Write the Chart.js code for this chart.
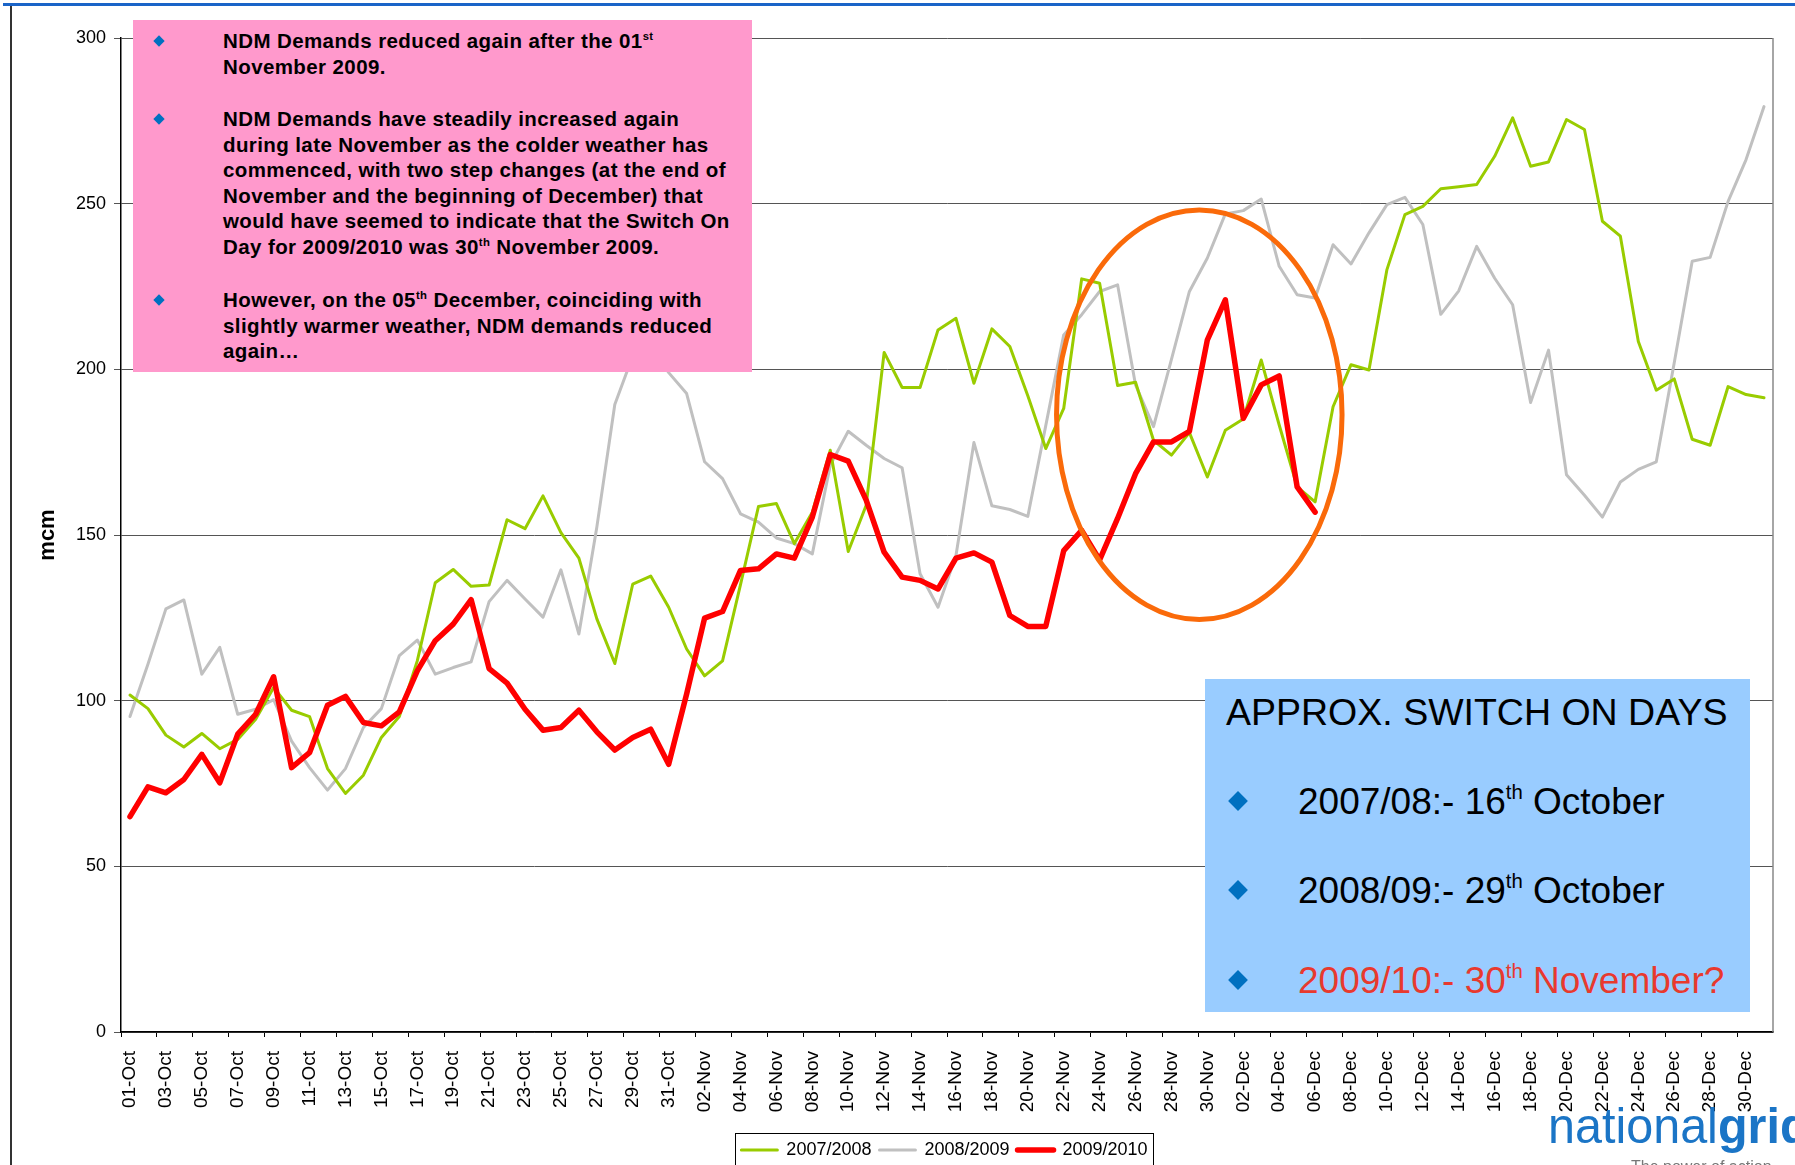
<!DOCTYPE html>
<html>
<head>
<meta charset="utf-8">
<script src="https://cdn.jsdelivr.net/npm/chart.js@4.4.1/dist/chart.umd.min.js"></script>
<style>
  html, body { margin: 0; padding: 0; background: #fff; }
  #wrap { position: relative; width: 1795px; height: 1165px; overflow: hidden; font-family: "Liberation Sans", Arial, sans-serif; color: #000; }
  #chart { position: absolute; left: 0; top: 0; }
  .topline { position: absolute; left: 3px; top: 3px; width: 1792px; height: 3px; background: #1a64c8; }
  .leftline { position: absolute; left: 10px; top: 6px; width: 2px; height: 1160px; background: #333; }
  .note { position: absolute; left: 133px; top: 20px; width: 619px; height: 352px; background: #ff99cc; }
  .note .para { position: absolute; left: 90px; font-weight: bold; font-size: 20.5px; letter-spacing: 0.4px; line-height: 25.6px; white-space: nowrap; }
  .note .dot { position: absolute; left: 22px; width: 8px; height: 8px; background: #0070c0; transform: rotate(45deg); }
  .switch { position: absolute; left: 1205px; top: 679px; width: 545px; height: 333px; background: #99ccff; }
  .switch .ln { position: absolute; font-size: 37px; line-height: 37px; white-space: nowrap; }
  .switch .dot { position: absolute; left: 26px; width: 14px; height: 14px; background: #0070c0; transform: rotate(45deg); }
  sup { font-size: 0.55em; line-height: 0; vertical-align: 0; position: relative; top: -0.75em; }
  .logo { position: absolute; left: 1548px; top: 1101px; font-size: 50px; line-height: 50px; color: #1b75c6; white-space: nowrap; transform: scaleX(0.97); transform-origin: left top; }
  .logo b { font-weight: bold; }
  .tag { position: absolute; left: 1631px; top: 1158px; font-size: 16px; color: #777; white-space: nowrap; }
</style>
</head>
<body>
<div id="wrap">
  <canvas id="chart" width="1795" height="1165"></canvas>
  <div class="topline"></div>
  <div class="leftline"></div>

  <div class="note">
    <div class="dot" style="top:17px"></div>
    <div class="para" style="top:8px">NDM Demands reduced again after the 01<sup>st</sup><br>November 2009.</div>
    <div class="dot" style="top:95px"></div>
    <div class="para" style="top:86px">NDM Demands have steadily increased again<br>during late November as the colder weather has<br>commenced, with two step changes (at the end of<br>November and the beginning of December) that<br>would have seemed to indicate that the Switch On<br>Day for 2009/2010 was 30<sup>th</sup> November 2009.</div>
    <div class="dot" style="top:276px"></div>
    <div class="para" style="top:267px">However, on the 05<sup>th</sup> December, coinciding with<br>slightly warmer weather, NDM demands reduced<br>again…</div>
  </div>

  <div class="switch">
    <div class="ln" style="left:21px; top:15px; font-size:37.5px">APPROX. SWITCH ON DAYS</div>
    <div class="dot" style="top:115px"></div>
    <div class="ln" style="left:93px; top:104px">2007/08:- 16<sup>th</sup> October</div>
    <div class="dot" style="top:204px"></div>
    <div class="ln" style="left:93px; top:193px">2008/09:- 29<sup>th</sup> October</div>
    <div class="dot" style="top:294px"></div>
    <div class="ln" style="left:93px; top:283px; color:#e8392e">2009/10:- 30<sup>th</sup> November?</div>
  </div>

  <div class="logo">national<b>grid</b></div>
  <div class="tag">The power of action</div>
</div>

<script>
// Daily NDM demand (mcm), 01-Oct .. 31-Dec
const days = [
  '01-Oct','02-Oct','03-Oct','04-Oct','05-Oct','06-Oct','07-Oct','08-Oct','09-Oct','10-Oct',
  '11-Oct','12-Oct','13-Oct','14-Oct','15-Oct','16-Oct','17-Oct','18-Oct','19-Oct','20-Oct',
  '21-Oct','22-Oct','23-Oct','24-Oct','25-Oct','26-Oct','27-Oct','28-Oct','29-Oct','30-Oct','31-Oct',
  '01-Nov','02-Nov','03-Nov','04-Nov','05-Nov','06-Nov','07-Nov','08-Nov','09-Nov','10-Nov',
  '11-Nov','12-Nov','13-Nov','14-Nov','15-Nov','16-Nov','17-Nov','18-Nov','19-Nov','20-Nov',
  '21-Nov','22-Nov','23-Nov','24-Nov','25-Nov','26-Nov','27-Nov','28-Nov','29-Nov','30-Nov',
  '01-Dec','02-Dec','03-Dec','04-Dec','05-Dec','06-Dec','07-Dec','08-Dec','09-Dec','10-Dec',
  '11-Dec','12-Dec','13-Dec','14-Dec','15-Dec','16-Dec','17-Dec','18-Dec','19-Dec','20-Dec',
  '21-Dec','22-Dec','23-Dec','24-Dec','25-Dec','26-Dec','27-Dec','28-Dec','29-Dec','30-Dec','31-Dec'
];

const demand0708 = [
  101.7, 97.6, 89.6, 86.0, 90.1, 85.5, 88.3, 94.4, 104.0, 97.1,
  95.2, 79.5, 72.0, 77.5, 88.9, 95.2, 112.0, 135.6, 139.6, 134.5,
  134.9, 154.6, 151.9, 161.8, 150.7, 143.0, 124.7, 111.2, 135.2, 137.6,
  128.2, 115.6, 107.5, 112.0, 135.0, 158.6, 159.5, 147.4, 156.9, 175.6,
  145.0, 159.0, 205.1, 194.5, 194.5, 211.9, 215.4, 195.8, 212.2, 206.9,
  192.0, 176.1, 188.2, 227.3, 226.0, 195.1, 196.1, 178.6, 174.1, 180.9,
  167.5, 181.6, 185.0, 202.8, 183.2, 164.5, 160.0, 188.7, 201.4, 199.8,
  230.1, 246.7, 249.2, 254.5, 255.1, 255.8, 264.3, 275.9, 261.3, 262.6,
  275.4, 272.4, 244.7, 240.2, 208.4, 193.7, 197.1, 178.9, 177.1, 194.8,
  192.4, 191.4
];

const demand0809 = [
  95.2, 111.0, 127.7, 130.4, 108.0, 116.1, 95.9, 97.4, 100.3, 87.8,
  79.8, 73.0, 79.5, 91.9, 97.6, 113.6, 118.3, 108.0, 110.0, 111.7,
  129.9, 136.3, 130.7, 125.2, 139.5, 120.1, 152.4, 189.4, 204.0, 207.0,
  199.0, 192.7, 172.1, 167.0, 156.4, 153.9, 149.1, 147.4, 144.3, 171.1,
  181.3, 177.1, 173.1, 170.3, 138.3, 128.2, 143.8, 177.9, 158.8, 157.7,
  155.6, 183.0, 210.4, 216.5, 223.5, 225.5, 195.3, 182.7, 203.0, 223.5,
  233.6, 246.9, 247.9, 251.4, 231.1, 222.5, 221.5, 237.6, 231.8, 241.2,
  249.7, 251.9, 243.7, 216.6, 223.7, 237.1, 227.5, 219.5, 190.0, 205.8,
  168.2, 162.0, 155.4, 166.0, 169.8, 172.1, 202.0, 232.6, 233.8, 250.7,
  263.3, 279.3
];

// 2009/2010 only runs to 06-Dec
const demand0910 = [
  65.0, 74.0, 72.2, 76.2, 83.8, 75.2, 89.9, 95.9, 107.2, 79.8,
  84.3, 98.6, 101.3, 93.4, 92.4, 96.6, 109.0, 118.1, 123.1, 130.5,
  109.7, 105.3, 97.4, 91.1, 91.9, 97.1, 90.6, 85.1, 88.9, 91.4,
  80.8, 102.0, 124.9, 126.9, 139.3, 139.8, 144.3, 143.0, 155.4, 174.3,
  172.3, 160.5, 144.8, 137.3, 136.3, 133.7, 143.0, 144.6, 141.8, 125.7,
  122.4, 122.4, 145.3, 151.4, 142.5, 155.0, 168.5, 178.1, 178.1, 181.3,
  208.9, 221.0, 185.2, 195.3, 198.0, 164.5, 156.9
];

const yTicks = [0, 50, 100, 150, 200, 250, 300];

// highlight ring round late Nov / early Dec (category index, mcm)
const ringCentre = [59.55, 186.3];
const ringRadius = [7.95, 61.8];

Chart.defaults.font.family = '"Liberation Sans", Arial, sans-serif';
Chart.defaults.color = '#000';

// plot border, highlight ring, legend frame
const extras = {
  id: 'extras',
  afterUpdate(chart) {
    // legend plugin has already placed its hit boxes, so move both
    const lg = chart.legend;
    const dx = 58, dy = 4;
    lg.left += dx; lg.right += dx;
    lg.top += dy; lg.bottom += dy;
    (lg.legendHitBoxes || []).forEach(h => { h.left += dx; h.top += dy; });
  },
  beforeDatasetsDraw(chart) {
    const { ctx, chartArea: a } = chart;
    ctx.save();
    ctx.strokeStyle = '#888';
    ctx.lineWidth = 1.5;
    ctx.beginPath();
    ctx.moveTo(a.right, a.top);
    ctx.lineTo(a.right, a.bottom);
    ctx.stroke();
    ctx.restore();
  },
  afterDatasetsDraw(chart) {
    const { ctx, scales: { x, y } } = chart;
    const cx = x.getPixelForValue(ringCentre[0]);
    const cy = y.getPixelForValue(ringCentre[1]);
    const rx = x.getPixelForValue(ringCentre[0] + ringRadius[0]) - cx;
    const ry = cy - y.getPixelForValue(ringCentre[1] + ringRadius[1]);
    ctx.save();
    ctx.strokeStyle = '#fa6a0a';
    ctx.lineWidth = 5;
    ctx.beginPath();
    ctx.ellipse(cx, cy, rx, ry, 0, 0, 2 * Math.PI);
    ctx.stroke();
    ctx.restore();
  },
  afterDraw(chart) {
    const hb = chart.legend.legendHitBoxes;
    if (!hb || !hb.length) return;
    const l = Math.min(...hb.map(h => h.left)) - 6;
    const r = Math.max(...hb.map(h => h.left + h.width)) + 6;
    const mid = hb[0].top + hb[0].height / 2;
    const ctx = chart.ctx;
    ctx.save();
    ctx.strokeStyle = '#000';
    ctx.lineWidth = 1;
    ctx.strokeRect(Math.round(l) + 0.5, Math.round(mid - 17) + 0.5, Math.round(r - l), 34);
    ctx.restore();
  }
};

new Chart(document.getElementById('chart'), {
  type: 'line',
  data: {
    labels: days,
    datasets: [
      { label: '2007/2008', data: demand0708, borderColor: '#99cc00', backgroundColor: '#99cc00', borderWidth: 3, order: 2 },
      { label: '2008/2009', data: demand0809, borderColor: '#c0c0c0', backgroundColor: '#c0c0c0', borderWidth: 3, order: 3 },
      { label: '2009/2010', data: demand0910, borderColor: '#ff0000', backgroundColor: '#ff0000', borderWidth: 5.5, order: 1 }
    ]
  },
  options: {
    responsive: false,
    animation: false,
    devicePixelRatio: 1,
    layout: { padding: { left: 0, right: 22, top: 38, bottom: 0 } },
    elements: {
      point: { radius: 0, hoverRadius: 0 },
      line: { tension: 0, fill: false, borderJoinStyle: 'round', borderCapStyle: 'round' }
    },
    plugins: {
      tooltip: { enabled: false },
      legend: {
        position: 'bottom',
        labels: {
          boxWidth: 36,
          boxHeight: 0,
          padding: 8,
          font: { size: 18 },
          color: '#000',
          sort: (a, b) => a.datasetIndex - b.datasetIndex
        }
      }
    },
    scales: {
      x: {
        offset: true,
        grid: {
          offset: true,
          drawOnChartArea: false,
          tickLength: 5,
          color: c => (c.index % 2 === 0 ? '#000' : 'rgba(0,0,0,0)')
        },
        border: { display: true, color: '#000', width: 1.5 },
        ticks: {
          autoSkip: false,
          maxRotation: 90,
          minRotation: 90,
          padding: 14,
          font: { size: 19 },
          callback: function (v, i) { return i % 2 === 0 ? this.getLabelForValue(v) : ''; }
        },
        afterFit: s => { s.height = 97; s.paddingLeft = 0; s.paddingRight = 0; }
      },
      y: {
        min: 0,
        max: 300,
        afterBuildTicks: s => { s.ticks = yTicks.map(v => ({ value: v })); },
        grid: { color: '#555', lineWidth: 1, tickLength: 7 },
        border: { display: true, color: '#000', width: 1.5 },
        ticks: { padding: 8, font: { size: 18 } },
        title: { display: true, text: 'mcm', font: { size: 22, weight: 'bold' }, padding: { top: 35, bottom: 0 } },
        afterFit: s => { s.width = 121; }
      }
    }
  },
  plugins: [extras]
});
</script>
</body>
</html>
